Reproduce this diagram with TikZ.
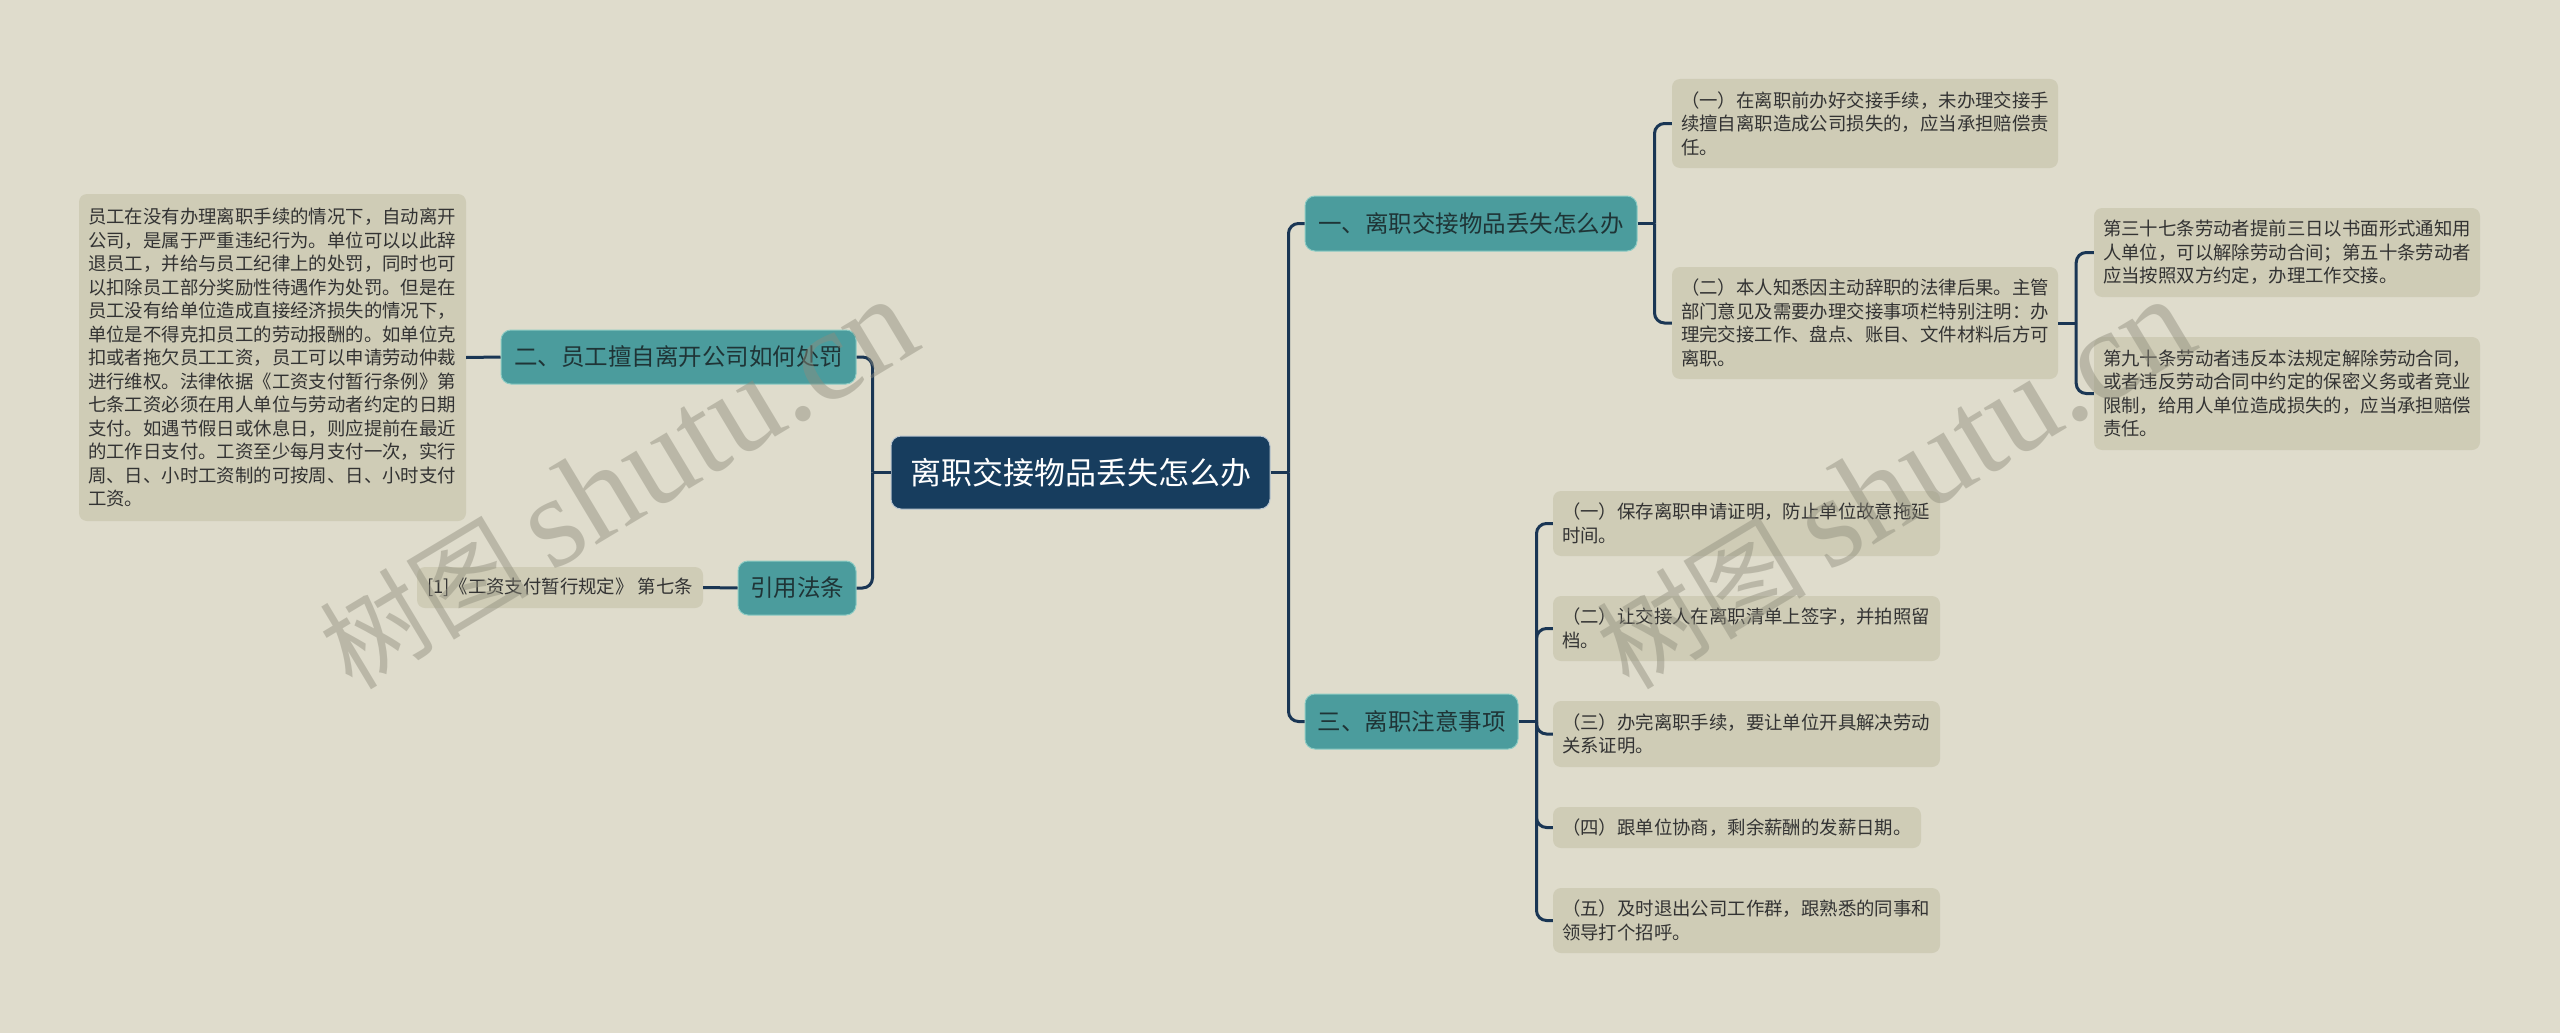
\documentclass[tikz,border=0pt]{standalone}
\usepackage{fontspec}
\setmainfont{Noto Sans CJK SC}
\newfontfamily\cjk{Noto Sans CJK SC}
\newfontfamily\wmserif{Liberation Serif}
\definecolor{bgc}{HTML}{DFDCCC}
\definecolor{leafc}{HTML}{CFCCB6}
\definecolor{tealc}{HTML}{4B9C9D}
\definecolor{tealedge}{HTML}{8CCBC3}
\definecolor{navyc}{HTML}{173D5E}
\definecolor{linec}{HTML}{1A3654}
\definecolor{ltxt}{HTML}{333333}
\definecolor{btxt}{HTML}{1F3436}
\definecolor{wmc}{HTML}{8E8C7C}
\tikzset{
  leafbox/.style={fill=leafc, rounded corners=8pt, text=ltxt,
    font=\fontsize{18.4}{23.5}\selectfont, align=left,
    inner xsep=9pt, inner ysep=0pt},
  branchbox/.style={fill=tealc, draw=tealedge, line width=1pt, rounded corners=10pt,
    text=btxt, font=\fontsize{23.5}{28}\selectfont, inner sep=0pt},
  rootbox/.style={fill=navyc, draw=white!70!navyc, line width=1pt, rounded corners=10pt,
    text=white, font=\fontsize{31}{36}\selectfont, inner sep=0pt},
  conn/.style={draw=linec, line width=3pt, rounded corners=10pt},
  wm/.style={text=wmc, opacity=0.45, inner sep=0pt}
}
\newcommand{\wmtext}{{\fontsize{105}{105}\selectfont\cjk 树图}\hspace{22pt}{\fontsize{130}{130}\selectfont\wmserif shutu.cn}}
\begin{document}
\begin{tikzpicture}[x=1pt,y=-1pt]
\fill[bgc] (0,0) rectangle (2560,1033);
\useasboundingbox (0,0) rectangle (2560,1033);

% root
\node[rootbox, minimum width=379pt, minimum height=73pt] (root) at (1080.5,472.5) {离职交接物品丢失怎么办};

% branches
\node[branchbox, minimum width=332pt, minimum height=55pt] (b1) at (1471,223.5) {一、离职交接物品丢失怎么办};
\node[branchbox, minimum width=213pt, minimum height=55pt] (b3) at (1411.5,721.5) {三、离职注意事项};
\node[branchbox, minimum width=355pt, minimum height=54pt] (b2) at (678.5,357) {二、员工擅自离开公司如何处罚};
\node[branchbox, minimum width=118pt, minimum height=54pt] (b4) at (797,588) {引用法条};

% left leaves
\node[leafbox, minimum width=387pt, minimum height=327pt, text width=369pt] (l2) at (272.5,357.5) {员工在没有办理离职手续的情况下，自动离开\\公司，是属于严重违纪行为。单位可以以此辞\\退员工，并给与员工纪律上的处罚，同时也可\\以扣除员工部分奖励性待遇作为处罚。但是在\\员工没有给单位造成直接经济损失的情况下，\\单位是不得克扣员工的劳动报酬的。如单位克\\扣或者拖欠员工工资，员工可以申请劳动仲裁\\进行维权。法律依据《工资支付暂行条例》第\\七条工资必须在用人单位与劳动者约定的日期\\支付。如遇节假日或休息日，则应提前在最近\\的工作日支付。工资至少每月支付一次，实行\\周、日、小时工资制的可按周、日、小时支付\\工资。};
\node[leafbox, minimum width=286pt, minimum height=41pt] (l4) at (560,587.5) {[1]《工资支付暂行规定》 第七条};

% branch 1 leaves
\node[leafbox, minimum width=386pt, minimum height=89pt, text width=368pt] (c1a) at (1865,123.5) {（一）在离职前办好交接手续，未办理交接手\\续擅自离职造成公司损失的，应当承担赔偿责\\任。};
\node[leafbox, minimum width=386pt, minimum height=112pt, text width=368pt] (c1b) at (1865,323) {（二）本人知悉因主动辞职的法律后果。主管\\部门意见及需要办理交接事项栏特别注明：办\\理完交接工作、盘点、账目、文件材料后方可\\离职。};
\node[leafbox, minimum width=386pt, minimum height=89pt, text width=368pt] (c1b1) at (2287,252.5) {第三十七条劳动者提前三日以书面形式通知用\\人单位，可以解除劳动合间；第五十条劳动者\\应当按照双方约定，办理工作交接。};
\node[leafbox, minimum width=386pt, minimum height=113pt, text width=368pt] (c1b2) at (2287,393.5) {第九十条劳动者违反本法规定解除劳动合同，\\或者违反劳动合同中约定的保密义务或者竞业\\限制，给用人单位造成损失的，应当承担赔偿\\责任。};

% branch 3 leaves
\node[leafbox, minimum width=387pt, minimum height=65pt, text width=369pt] (c3a) at (1746.5,523.5) {（一）保存离职申请证明，防止单位故意拖延\\时间。};
\node[leafbox, minimum width=387pt, minimum height=65pt, text width=369pt] (c3b) at (1746.5,628.5) {（二）让交接人在离职清单上签字，并拍照留\\档。};
\node[leafbox, minimum width=387pt, minimum height=66pt, text width=369pt] (c3c) at (1746.5,734) {（三）办完离职手续，要让单位开具解决劳动\\关系证明。};
\node[leafbox, minimum width=368pt, minimum height=41pt, text width=350pt] (c3d) at (1737,827.5) {（四）跟单位协商，剩余薪酬的发薪日期。};
\node[leafbox, minimum width=387pt, minimum height=65pt, text width=369pt] (c3e) at (1746.5,920.5) {（五）及时退出公司工作群，跟熟悉的同事和\\领导打个招呼。};

% junction points
\coordinate (tR) at ([xshift=18pt]root.east);
\coordinate (tL) at ([xshift=-18pt]root.west);
\coordinate (t1) at ([xshift=17pt]b1.east);
\coordinate (t1b) at ([xshift=18pt]c1b.east);
\coordinate (t3) at ([xshift=18pt]b3.east);

% connectors
\draw[conn] (root.east) -- (tR);
\draw[conn] (tR) |- (b1.west);
\draw[conn] (tR) |- (b3.west);
\draw[conn] (root.west) -- (tL);
\draw[conn] (tL) |- (b2.east);
\draw[conn] (tL) |- (b4.east);
\draw[conn] (b2.west) -- (l2.east);
\draw[conn] (b4.west) -- (l4.east);
\draw[conn] (b1.east) -- (t1);
\draw[conn] (t1) |- (c1a.west);
\draw[conn] (t1) |- (c1b.west);
\draw[conn] (c1b.east) -- (t1b);
\draw[conn] (t1b) |- (c1b1.west);
\draw[conn] (t1b) |- (c1b2.west);
\draw[conn] (b3.east) -- (t3);
\draw[conn] (t3) |- (c3a.west);
\draw[conn] (t3) |- (c3b.west);
\draw[conn] (t3) |- (c3c.west);
\draw[conn] (t3) |- (c3d.west);
\draw[conn] (t3) |- (c3e.west);

% watermarks
\node[wm, anchor=base west, rotate=31] (wm1) at (352,692) {\wmtext};
\node[wm, anchor=base west, rotate=31] (wm2) at (1629,692) {\wmtext};
\end{tikzpicture}
\end{document}
